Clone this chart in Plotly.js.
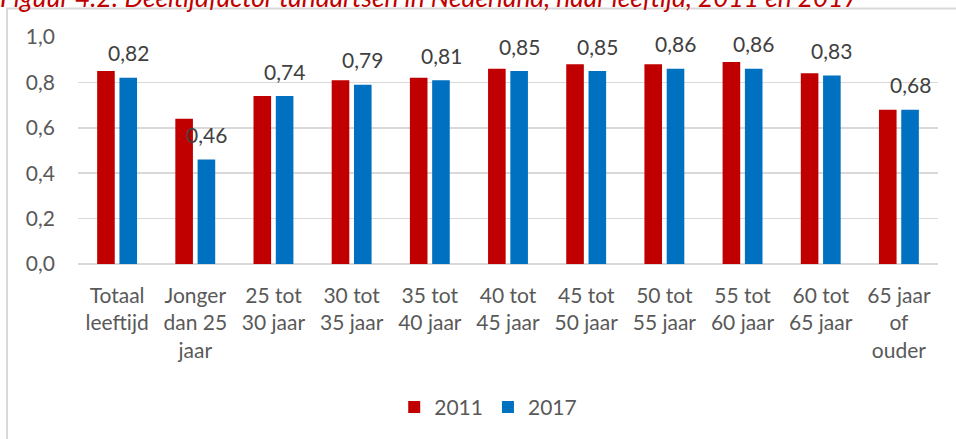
<!DOCTYPE html>
<html>
<head>
<meta charset="utf-8">
<script src="https://cdn.plot.ly/plotly-3.0.1.min.js"></script>
<style>
html,body{margin:0;padding:0;background:#fff;}
#chart{width:956px;height:439px;}
</style>
</head>
<body>
<div id="chart"></div>
<script>
const categories = ["Totaal leeftijd","Jonger dan 25 jaar","25 tot 30 jaar","30 tot 35 jaar","35 tot 40 jaar","40 tot 45 jaar","45 tot 50 jaar","50 tot 55 jaar","55 tot 60 jaar","60 tot 65 jaar","65 jaar of ouder"];
const tickLabels = ["Totaal<br>leeftijd","Jonger<br>dan 25<br>jaar","25 tot<br>30 jaar","30 tot<br>35 jaar","35 tot<br>40 jaar","40 tot<br>45 jaar","45 tot<br>50 jaar","50 tot<br>55 jaar","55 tot<br>60 jaar","60 tot<br>65 jaar","65 jaar<br>of<br>ouder"];
const values2011 = [0.85,0.64,0.74,0.81,0.82,0.86,0.88,0.88,0.89,0.84,0.68];
const values2017 = [0.82,0.46,0.74,0.79,0.81,0.85,0.85,0.86,0.86,0.83,0.68];
const seriesNames = ["2011","2017"];
const titleText = "Figuur 4.2: Deeltijdfactor tandartsen in Nederland, naar leeftijd, 2011 en 2017";

const FONT = "Lato, 'Open Sans', sans-serif";
const fmt = v => v.toFixed(2).replace('.', ',');

const traces = [
  {type:'bar', name:seriesNames[0], x:categories, y:values2011, marker:{color:'#C00000'}, hoverinfo:'skip'},
  {type:'bar', name:seriesNames[1], x:categories, y:values2017, marker:{color:'#0070C0'}, hoverinfo:'skip'}
];

const annotations = categories.map((c,i)=>({
  x:c, y:values2017[i], xref:'x', yref:'y', text:fmt(values2017[i]),
  showarrow:false, xshift:11.2, yshift:25, yanchor:'middle', xanchor:'center',
  font:{family:FONT, size:21, color:'#404040'}
}));
annotations.push({
  x:-0.0925, y:1.178, xref:'paper', yref:'paper', xanchor:'left', yanchor:'middle',
  text:'<i>'+titleText+'</i>', showarrow:false,
  font:{family:FONT, size:26.3, color:'#C00000'}
});

const layout = {
  width:956, height:439,
  margin:{l:78, r:18, t:37, b:175},
  paper_bgcolor:'#fff', plot_bgcolor:'#fff',
  separators:',.',
  font:{family:FONT, size:21, color:'#595959'},
  barmode:'group', bargap:0.43, bargroupgap:0.21,
  showlegend:true,
  legend:{orientation:'h', x:0.477, xanchor:'center', y:-0.631, yanchor:'middle',
          font:{family:FONT, size:21, color:'#595959'}},
  xaxis:{type:'category', tickvals:categories, ticktext:tickLabels, showgrid:false, showline:false,
         zeroline:false, ticks:'', ticklabelstandoff:17, tickfont:{family:FONT, size:21, color:'#595959'},
         fixedrange:true},
  yaxis:{range:[0,1], dtick:0.2, tickformat:'.1f', showgrid:true, gridcolor:'#d9d9d9', gridwidth:1.5,
         zeroline:true, zerolinecolor:'#d9d9d9', zerolinewidth:1.5, showline:false, ticks:'',
         ticklabelstandoff:22, tickfont:{family:FONT, size:21, color:'#595959'}, fixedrange:true},
  annotations:annotations,
  shapes:[{type:'rect', xref:'paper', yref:'paper', x0:-0.0826, x1:1.2, y0:-1.2, y1:1.126,
           line:{color:'#d9d9d9', width:2}, fillcolor:'rgba(0,0,0,0)', layer:'below'}]
};

Plotly.newPlot('chart', traces, layout, {staticPlot:true, displayModeBar:false});
</script>
</body>
</html>
